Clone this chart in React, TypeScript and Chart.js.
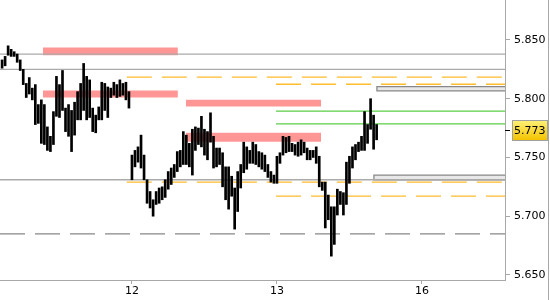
import React, { useEffect, useRef } from 'react';
import { Chart, registerables } from 'chart.js';

Chart.register(...registerables);

// ---- axis ranges (bar index on x, price on y) ----
const X_MIN = 4.31;
const X_MAX = 171.5;
const Y_MIN = 5.6457;
const Y_MAX = 5.884;

const dayTicks = [48, 96, 144];
const dayLabels = ['12', '13', '16'];
const yTicks = [5.65, 5.7, 5.75, 5.8, 5.85];

// ---- price bars (30-min), starting at bar index 5 ----
const firstBarIndex = 5;
const barHighs = [
  5.833, 5.836, 5.845, 5.842, 5.840, 5.838, 5.833, 5.825, 5.813, 5.818,
  5.809, 5.812, 5.795, 5.799, 5.795, 5.776, 5.768, 5.789, 5.819, 5.812,
  5.824, 5.792, 5.795, 5.790, 5.797, 5.806, 5.813, 5.830, 5.819, 5.816,
  5.792, 5.786, 5.793, 5.814, 5.813, 5.810, 5.809, 5.814, 5.812, 5.816,
  5.813, 5.814, 5.806,
  5.752, 5.756, 5.759, 5.769, 5.752, 5.731, 5.721, 5.714, 5.721, 5.724,
  5.725, 5.731, 5.738, 5.741, 5.744, 5.755, 5.756, 5.772, 5.769, 5.762,
  5.774, 5.776, 5.775, 5.785, 5.774, 5.772, 5.788, 5.768, 5.758, 5.758,
  5.754, 5.742, 5.742, 5.734, 5.724, 5.738, 5.744, 5.763, 5.759, 5.756,
  5.763, 5.761, 5.755, 5.754, 5.752, 5.744, 5.738, 5.735,
  5.751, 5.754, 5.768, 5.767, 5.768, 5.762, 5.761, 5.763, 5.765, 5.763,
  5.758, 5.756, 5.756, 5.759, 5.751, 5.729, 5.729, 5.718, 5.708, 5.708,
  5.723, 5.721, 5.720, 5.746, 5.751, 5.759, 5.761, 5.763, 5.768, 5.789,
  5.778, 5.800, 5.786, 5.778,
];
const barLows = [
  5.826, 5.828, 5.837, 5.836, 5.836, 5.831, 5.824, 5.812, 5.801, 5.804,
  5.799, 5.778, 5.779, 5.762, 5.761, 5.756, 5.755, 5.761, 5.785, 5.784,
  5.790, 5.772, 5.768, 5.755, 5.769, 5.782, 5.782, 5.790, 5.782, 5.784,
  5.772, 5.771, 5.782, 5.782, 5.790, 5.784, 5.801, 5.803, 5.801, 5.802,
  5.803, 5.799, 5.792,
  5.731, 5.742, 5.746, 5.741, 5.731, 5.711, 5.707, 5.700, 5.710, 5.711,
  5.714, 5.716, 5.723, 5.727, 5.733, 5.738, 5.742, 5.744, 5.744, 5.742,
  5.735, 5.756, 5.761, 5.759, 5.752, 5.748, 5.763, 5.741, 5.742, 5.744,
  5.725, 5.714, 5.706, 5.717, 5.689, 5.704, 5.724, 5.737, 5.740, 5.745,
  5.745, 5.744, 5.742, 5.740, 5.738, 5.733, 5.729, 5.728,
  5.728, 5.745, 5.752, 5.754, 5.755, 5.755, 5.752, 5.751, 5.752, 5.754,
  5.748, 5.748, 5.750, 5.745, 5.725, 5.722, 5.690, 5.697, 5.666, 5.676,
  5.701, 5.710, 5.701, 5.710, 5.728, 5.741, 5.748, 5.755, 5.756, 5.756,
  5.762, 5.774, 5.757, 5.765,
];
const lastClose = 5.773;

// ---- levels ----
const graySolidLevels = [5.838, 5.825, 5.731];
const grayDashedLevels = [5.6849];
const orangeStarts = [46.3, 46.3, 95.7, 95.7];
const orangeValues = [5.8183, 5.729, 5.8123, 5.7171];
const greenStart = 95.7;
const greenValues = [5.7894, 5.7786];

// ---- zones ----
const pinkStarts = [18.5, 18.5, 65.9, 65.9];
const pinkEnds = [63.2, 63.2, 110.6, 110.6];
const pinkTops = [5.8435, 5.807, 5.799, 5.771];
const pinkBottoms = [5.837, 5.801, 5.7933, 5.7633];
const grayBoxStarts = [129.1, 128.1];
const grayBoxTops = [5.8103, 5.735];
const grayBoxBottoms = [5.8067, 5.7309];

const FONT = 'DejaVu Sans';
const AXIS_GRAY = '#a8a8a8';

export default function App() {
  const ref = useRef<HTMLCanvasElement | null>(null);

  useEffect(() => {
    if (!ref.current) return;
    const datasets: any[] = [];

    datasets.push({
      type: 'bar',
      data: barHighs.map((h, k) => ({ x: firstBarIndex + k, y: [barLows[k], h] })),
      backgroundColor: '#000000',
      borderWidth: 0,
      barThickness: 2,
      order: 0,
    });

    const hline = (x0: number, x1: number, v: number, color: string, width: number, dash: number[]) => ({
      type: 'line',
      data: [{ x: x0, y: v }, { x: x1, y: v }],
      borderColor: color,
      borderWidth: width,
      borderDash: dash,
      pointRadius: 0,
      fill: false,
      order: 1,
    });

    graySolidLevels.forEach((v) => datasets.push(hline(X_MIN, X_MAX, v, '#aaaaaa', 1.3, [])));
    grayDashedLevels.forEach((v) => datasets.push(hline(X_MIN, X_MAX, v, '#888888', 1.3, [25, 10])));
    orangeValues.forEach((v, k) => datasets.push(hline(orangeStarts[k], X_MAX, v, 'rgb(255,188,45)', 1.3, [25, 10])));
    greenValues.forEach((v) => datasets.push(hline(greenStart, X_MAX, v, 'rgb(90,205,70)', 1.3, [])));

    pinkTops.forEach((top, k) => {
      datasets.push({
        type: 'line',
        data: [{ x: pinkStarts[k], y: top }, { x: pinkEnds[k], y: top }],
        borderColor: 'transparent',
        borderWidth: 0,
        backgroundColor: 'rgb(255,150,150)',
        pointRadius: 0,
        fill: { value: pinkBottoms[k] },
        order: 3,
      });
    });

    grayBoxTops.forEach((top, k) => {
      const x0 = grayBoxStarts[k];
      const bottom = grayBoxBottoms[k];
      datasets.push({
        type: 'line',
        data: [{ x: x0, y: top }, { x: X_MAX + 5, y: top }],
        borderColor: 'transparent',
        borderWidth: 0,
        backgroundColor: '#e8e8e8',
        pointRadius: 0,
        fill: { value: bottom },
        order: 3,
      });
      datasets.push({
        type: 'line',
        data: [
          { x: X_MAX + 5, y: bottom },
          { x: x0, y: bottom },
          { x: x0, y: top },
          { x: X_MAX + 5, y: top },
        ],
        borderColor: '#888888',
        borderWidth: 1.3,
        pointRadius: 0,
        fill: false,
        order: 2,
      });
    });

    const markerPlugin = {
      id: 'priceMarker',
      afterDraw(chart: any) {
        const { ctx, chartArea } = chart;
        const y = chart.scales.y.getPixelForValue(lastClose);
        const ry = Math.round(y);
        ctx.save();
        ctx.strokeStyle = '#000';
        ctx.lineWidth = 1;
        ctx.beginPath();
        ctx.moveTo(chartArea.right, ry + 0.5);
        ctx.lineTo(chartArea.right + 5, ry + 0.5);
        ctx.stroke();
        const bx = chartArea.right + 7;
        const bw = 36;
        const g = ctx.createLinearGradient(0, ry - 10, 0, ry + 10);
        g.addColorStop(0, '#fff27a');
        g.addColorStop(1, '#f3c300');
        ctx.fillStyle = g;
        ctx.fillRect(bx, ry - 10, bw, 21);
        ctx.strokeStyle = '#a0a0a0';
        ctx.strokeRect(bx + 0.5, ry - 9.5, bw - 1, 20);
        ctx.fillStyle = '#000';
        ctx.font = `11px "${FONT}"`;
        ctx.textBaseline = 'middle';
        ctx.textAlign = 'left';
        ctx.fillText(lastClose.toFixed(3), chartArea.right + 9, y + 0.5);
        ctx.strokeStyle = AXIS_GRAY;
        ctx.beginPath();
        ctx.moveTo(chart.width - 1.5, 0);
        ctx.lineTo(chart.width - 1.5, chart.height);
        ctx.stroke();
        ctx.restore();
      },
    };

    const chart = new Chart(ref.current, {
      type: 'bar',
      data: { datasets },
      options: {
        responsive: false,
        animation: false,
        events: [],
        layout: { padding: 0 },
        plugins: { legend: { display: false }, tooltip: { enabled: false } },
        scales: {
          x: {
            type: 'linear',
            min: X_MIN,
            max: X_MAX,
            offset: false,
            grid: { display: true, drawOnChartArea: false, tickLength: 4, color: AXIS_GRAY, offset: false },
            border: { color: AXIS_GRAY, width: 1 },
            afterBuildTicks: (scale: any) => {
              scale.ticks = dayTicks.map((v) => ({ value: v }));
            },
            afterFit: (scale: any) => {
              scale.height = 20;
              scale.paddingLeft = 0;
              scale.paddingRight = 0;
            },
            ticks: {
              autoSkip: false,
              maxRotation: 0,
              padding: 1,
              color: '#000',
              font: { family: FONT, size: 11 },
              callback: (v: any) => dayLabels[dayTicks.indexOf(Number(v))] ?? '',
            },
          },
          y: {
            type: 'linear',
            position: 'right',
            min: Y_MIN,
            max: Y_MAX,
            beginAtZero: false,
            grid: { display: true, drawOnChartArea: false, tickLength: 5, color: AXIS_GRAY },
            border: { color: AXIS_GRAY, width: 1 },
            afterBuildTicks: (scale: any) => {
              scale.ticks = yTicks.map((v) => ({ value: v }));
            },
            afterFit: (scale: any) => {
              scale.width = 45;
              scale.paddingTop = 0;
              scale.paddingBottom = 0;
            },
            ticks: {
              padding: 4,
              color: '#000',
              font: { family: FONT, size: 11 },
              callback: (v: any) => Number(v).toFixed(3),
            },
          },
        },
      },
      plugins: [markerPlugin],
    } as any);

    return () => chart.destroy();
  }, []);

  return (
    <div style={{ position: 'absolute', left: 0, top: 0, width: 550, height: 300, background: '#fff' }}>
      <canvas ref={ref} width={550} height={300} style={{ display: 'block' }} />
    </div>
  );
}
